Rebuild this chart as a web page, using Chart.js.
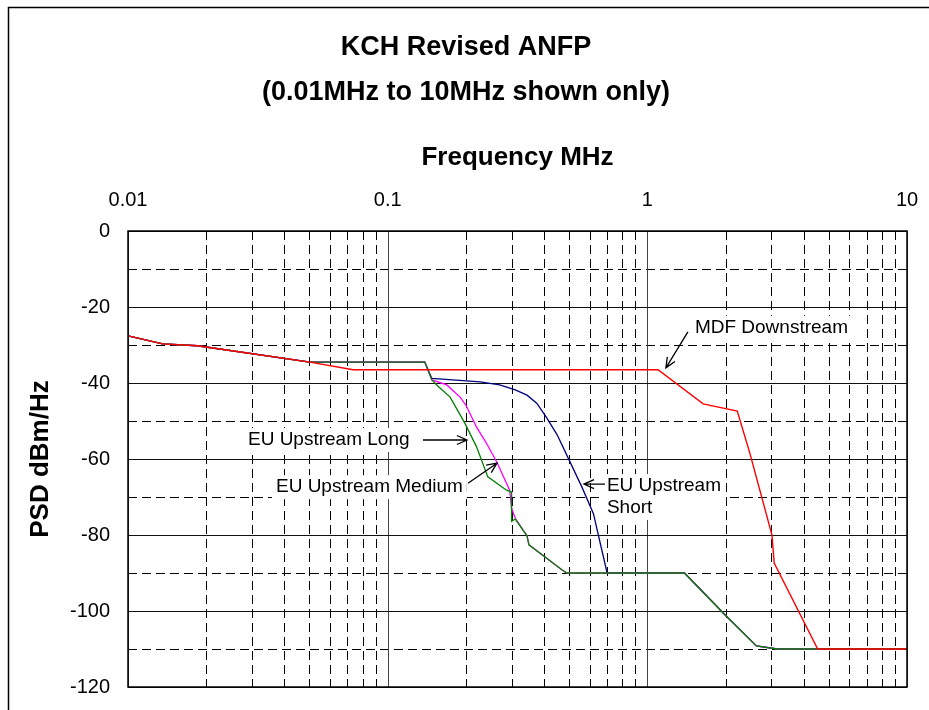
<!DOCTYPE html>
<html>
<head>
<meta charset="utf-8">
<script src="https://cdn.jsdelivr.net/npm/chart.js@4"></script>
<style>
  html, body { margin: 0; padding: 0; background: #fff; }
  canvas { display: block; }
</style>
</head>
<body>
<canvas id="psd-chart" width="929" height="710"></canvas>
<script>
// ── Values (frequency in MHz, PSD in dBm/Hz) ──
const mdfFreq = [0.01, 0.0136, 0.0185, 0.0502, 0.0736, 1.10, 1.64, 2.22, 2.48, 3.02, 3.08, 4.53, 10];
const mdfPsd  = [-27.6, -29.7, -30.2, -34.5, -36.5, -36.5, -45.5, -47.4, -58.4, -80, -87.4, -110, -110];

const longFreq = [0.01, 0.0136, 0.0185, 0.0502, 0.139, 0.148, 0.157, 0.174, 0.198, 0.22, 0.243, 0.287, 0.30, 0.30, 0.31, 0.344, 0.35, 0.47, 0.49, 1.39, 1.99, 2.63, 3.16, 10];
const longPsd  = [-27.6, -29.7, -30.2, -34.5, -34.5, -39.2, -41, -43.7, -50.5, -56.8, -64.7, -68.2, -68.7, -76.4, -75.8, -80.2, -82.6, -89.2, -90, -90, -101, -109.2, -110, -110];

const medFreq = [0.01, 0.0136, 0.0185, 0.0502, 0.139, 0.148, 0.169, 0.19, 0.20, 0.22, 0.24, 0.264, 0.295, 0.30, 0.31, 0.344, 0.35, 0.47, 0.49, 1.39, 1.99, 2.63, 3.16, 10];
const medPsd  = [-27.6, -29.7, -30.2, -34.5, -34.5, -39.2, -40.5, -43.7, -45.8, -51.6, -55.8, -61, -68.2, -72.9, -75.6, -80.2, -82.6, -89.2, -90, -90, -101, -109.2, -110, -110];

const shortFreq = [0.01, 0.0136, 0.0185, 0.0502, 0.139, 0.148, 0.227, 0.27, 0.31, 0.344, 0.375, 0.41, 0.45, 0.50, 0.56, 0.62, 0.70, 1.39, 1.99, 2.63, 3.16, 10];
const shortPsd  = [-27.6, -29.7, -30.2, -34.5, -34.5, -38.8, -39.7, -40.5, -41.8, -43.2, -45.3, -49.2, -53.7, -60.3, -67.4, -74.4, -90, -90, -101, -109.2, -110, -110];

const xMajorTicks = [0.01, 0.1, 1, 10];
const xTickLabels = ["0.01", "0.1", "1", "10"];
const yMajorTicks = [0, -20, -40, -60, -80, -100, -120];
const yMinorTicks = [-10, -30, -50, -70, -90, -110];

// callouts: text lines, arrow head (MHz, dBm/Hz), tail and text offsets in px from the head
const callouts = [
  { lines: ["MDF Downstream"], head: [1.179, -36.0], tail: [22, -36], text: [29, -40] },
  { lines: ["EU Upstream Long"], head: [0.202, -55.0], tail: [-44, 0], text: [-219, 0] },
  { lines: ["EU Upstream Medium"], head: [0.2636, -61.1], tail: [-29, 20], text: [-221, 24] },
  { lines: ["EU Upstream", "Short"], head: [0.570, -66.6], tail: [21, 0], text: [23, 2] },
];

const FONT = 'Arial, "Liberation Sans", sans-serif';

function pts(xs, ys) {
  return xs.map((x, i) => ({ x: x, y: ys[i] }));
}

function lineSet(label, xs, ys, color, width) {
  return {
    label: label,
    data: pts(xs, ys),
    borderColor: color,
    backgroundColor: "transparent",
    borderWidth: width,
    pointRadius: 0,
    tension: 0,
  };
}

// x positions of every 1..9 multiple inside each decade (for the grid)
function decadeLines() {
  const out = [];
  for (let d = 0.01; d < 10; d *= 10) {
    for (let m = 1; m <= 9; m++) out.push({ v: +(d * m).toPrecision(3), major: m === 1 });
  }
  out.push({ v: 10, major: true });
  return out;
}

function drawArrow(ctx, x1, y1, x2, y2) {
  const a = Math.atan2(y2 - y1, x2 - x1);
  const L = 11, W = 0.42;
  ctx.beginPath();
  ctx.moveTo(x1, y1);
  ctx.lineTo(x2, y2);
  ctx.moveTo(x2 - L * Math.cos(a - W), y2 - L * Math.sin(a - W));
  ctx.lineTo(x2, y2);
  ctx.lineTo(x2 - L * Math.cos(a + W), y2 - L * Math.sin(a + W));
  ctx.stroke();
}

const decor = {
  id: "decor",
  beforeDraw(chart) {
    const ctx = chart.ctx;
    ctx.save();
    ctx.fillStyle = "#fff";
    ctx.fillRect(0, 0, chart.width, chart.height);
    // outer frame
    ctx.strokeStyle = "#000";
    ctx.lineWidth = 1.5;
    ctx.strokeRect(8.5, 7.5, 1000, 1000);
    // titles
    ctx.fillStyle = "#000";
    ctx.textAlign = "center";
    ctx.textBaseline = "middle";
    ctx.font = "bold 27px " + FONT;
    ctx.fillText("KCH Revised ANFP", 466, 48);
    ctx.fillText("(0.01MHz to 10MHz shown only)", 466, 93);
    const a = chart.chartArea;
    ctx.font = "bold 26px " + FONT;
    ctx.fillText("Frequency MHz", (a.left + a.right) / 2, 158);
    ctx.translate(41, (a.top + a.bottom) / 2);
    ctx.rotate(-Math.PI / 2);
    ctx.fillText("PSD dBm/Hz", 0, 0);
    ctx.restore();
  },
  beforeDatasetsDraw(chart) {
    const ctx = chart.ctx;
    const a = chart.chartArea;
    const xs = chart.scales.x, ys = chart.scales.y;
    ctx.save();
    ctx.lineWidth = 1;
    // dashed minor grid
    ctx.strokeStyle = "#000";
    ctx.setLineDash([9, 5]);
    decadeLines().filter((g) => !g.major).forEach((g) => {
      const px = Math.round(xs.getPixelForValue(g.v)) + 0.5;
      ctx.beginPath(); ctx.moveTo(px, a.top); ctx.lineTo(px, a.bottom); ctx.stroke();
    });
    yMinorTicks.forEach((v) => {
      const py = Math.round(ys.getPixelForValue(v)) + 0.5;
      ctx.beginPath(); ctx.moveTo(a.left, py); ctx.lineTo(a.right, py); ctx.stroke();
    });
    // solid major grid
    ctx.setLineDash([]);
    ctx.strokeStyle = "#444";
    decadeLines().filter((g) => g.major).forEach((g) => {
      const px = Math.round(xs.getPixelForValue(g.v)) + 0.5;
      ctx.beginPath(); ctx.moveTo(px, a.top); ctx.lineTo(px, a.bottom); ctx.stroke();
    });
    ctx.strokeStyle = "#111";
    yMajorTicks.forEach((v) => {
      const py = Math.round(ys.getPixelForValue(v)) + 0.5;
      ctx.beginPath(); ctx.moveTo(a.left, py); ctx.lineTo(a.right, py); ctx.stroke();
    });
    ctx.restore();
  },
  afterDatasetsDraw(chart) {
    const ctx = chart.ctx;
    const a = chart.chartArea;
    const xs = chart.scales.x, ys = chart.scales.y;
    ctx.save();
    ctx.strokeStyle = "#000";
    ctx.lineWidth = 1.5;
    ctx.strokeRect(a.left, a.top, a.right - a.left, a.bottom - a.top);

    ctx.font = "19px " + FONT;
    ctx.textAlign = "left";
    ctx.textBaseline = "middle";
    callouts.forEach((c) => {
      const hx = xs.getPixelForValue(c.head[0]);
      const hy = ys.getPixelForValue(c.head[1]);
      const tx = hx + c.text[0], ty = hy + c.text[1];
      const w = Math.max(...c.lines.map((l) => ctx.measureText(l).width));
      ctx.fillStyle = "#fff";
      ctx.fillRect(tx - 4, ty - 12, w + 8, 22 * c.lines.length + 2);
      ctx.fillStyle = "#000";
      c.lines.forEach((l, i) => ctx.fillText(l, tx, ty + i * 22));
      ctx.lineWidth = 1.3;
      drawArrow(ctx, hx + c.tail[0], hy + c.tail[1], hx, hy);
    });
    ctx.restore();
  },
};

new Chart(document.getElementById("psd-chart"), {
  type: "line",
  data: {
    datasets: [
      lineSet("MDF Downstream", mdfFreq, mdfPsd, "#ff0000", 1.4),
      lineSet("EU Upstream Long", longFreq, longPsd, "#008000", 1.3),
      lineSet("EU Upstream Medium", medFreq, medPsd, "#ff00ff", 1.3),
      lineSet("EU Upstream Short", shortFreq, shortPsd, "#000080", 1.3),
    ],
  },
  options: {
    responsive: false,
    animation: false,
    devicePixelRatio: 1,
    layout: { padding: { left: 0, right: 22, top: 0, bottom: 23 } },
    plugins: { legend: { display: false }, tooltip: { enabled: false }, title: { display: false } },
    scales: {
      x: {
        type: "logarithmic",
        position: "top",
        min: 0.01,
        max: 10,
        grid: { display: false, drawTicks: false },
        border: { display: false },
        afterBuildTicks: (s) => { s.ticks = xMajorTicks.map((v) => ({ value: v })); },
        afterFit: (s) => {
          s.height = 231;
          s.paddingLeft = 0; s.paddingRight = 0;
        },
        ticks: {
          color: "#000",
          font: { family: FONT, size: 20 },
          padding: 19,
          maxRotation: 0,
          autoSkip: false,
          callback: (v) => {
            const i = xMajorTicks.indexOf(v);
            return i >= 0 ? xTickLabels[i] : "";
          },
        },
      },
      y: {
        min: -120,
        max: 0,
        grid: { display: false, drawTicks: false },
        border: { display: false },
        afterFit: (s) => {
          s.width = 128;
          s.paddingTop = 0; s.paddingBottom = 0;
        },
        afterBuildTicks: (s) => { s.ticks = yMajorTicks.map((v) => ({ value: v })); },
        ticks: {
          color: "#000",
          font: { family: FONT, size: 20 },
          padding: 18,
          callback: (v) => String(v),
        },
      },
    },
  },
  plugins: [decor],
});
</script>
</body>
</html>
